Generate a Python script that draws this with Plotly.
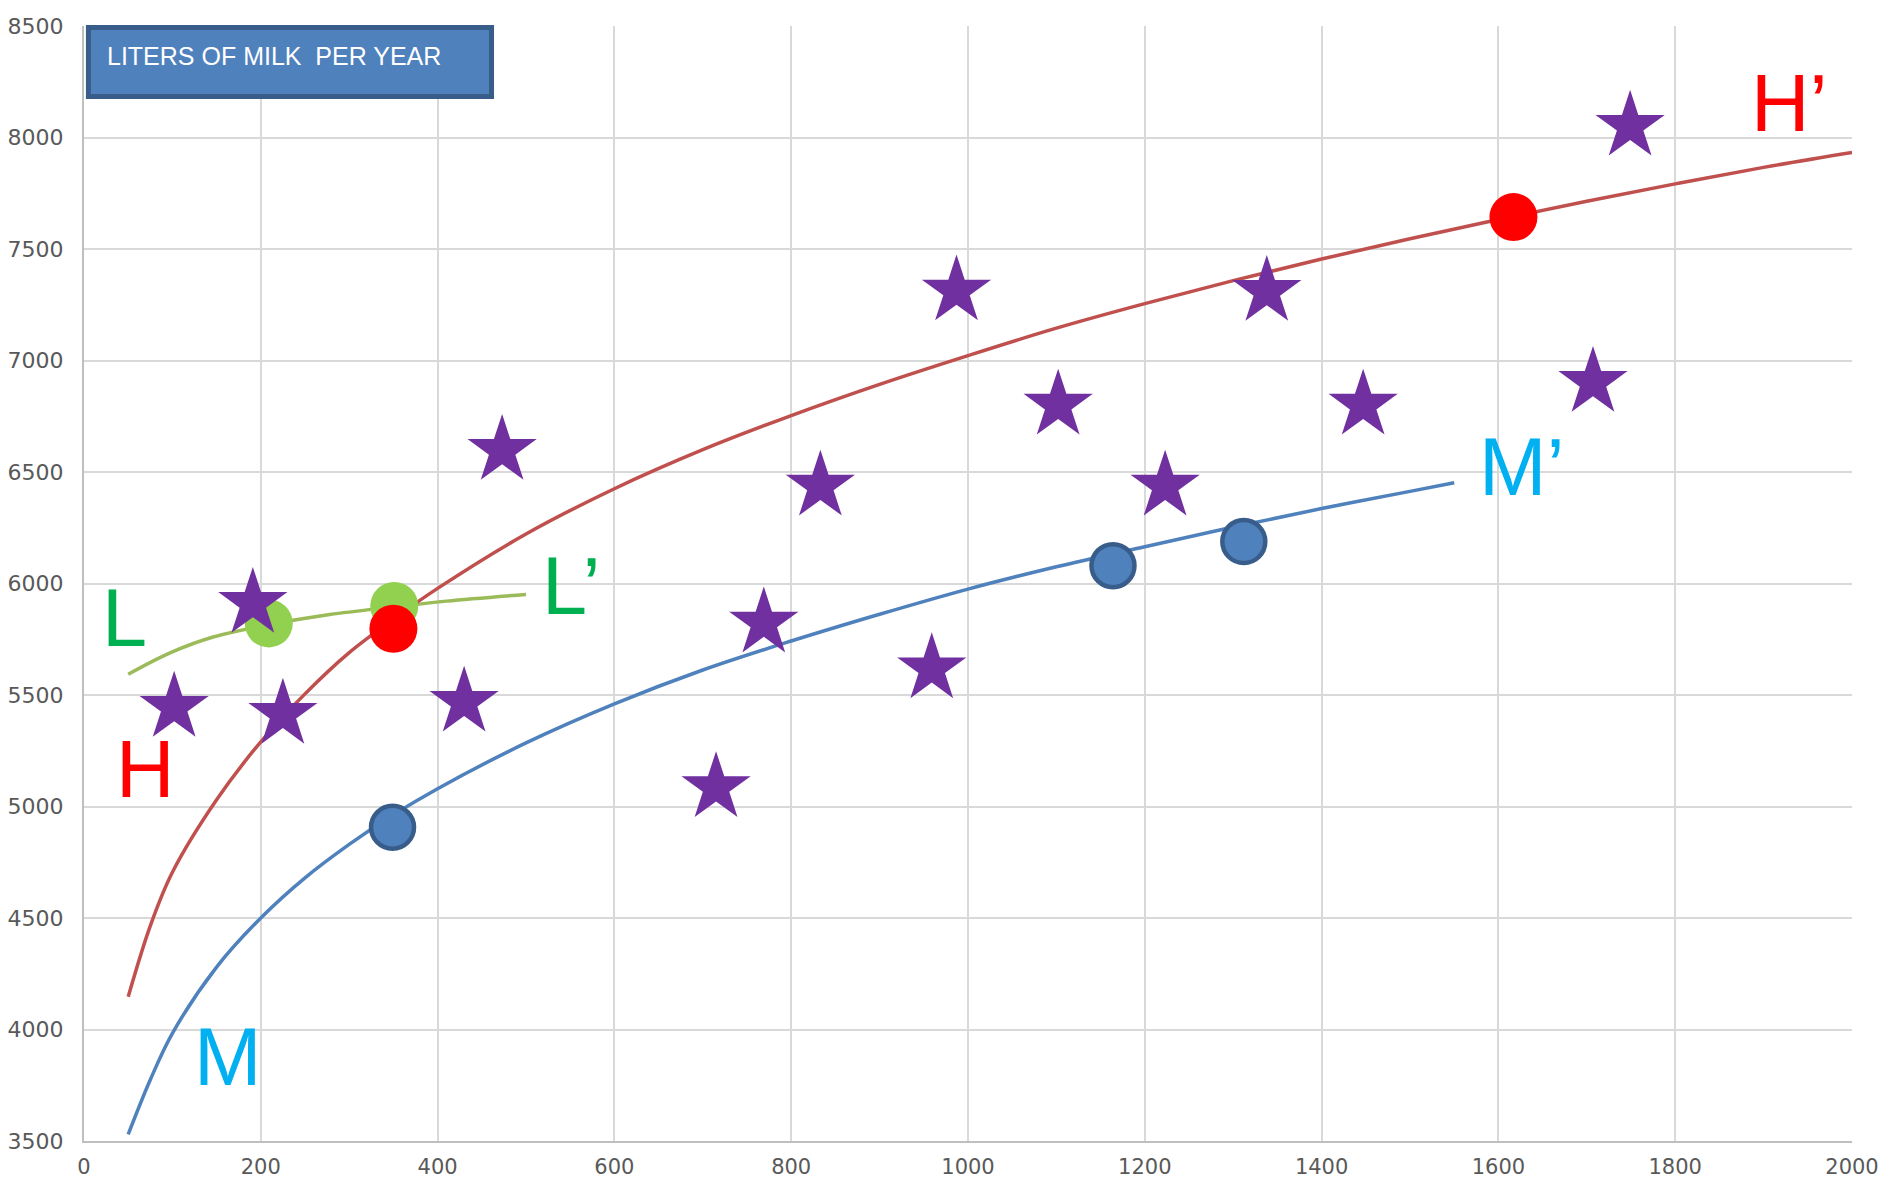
import plotly.graph_objects as go

# ---- data -------------------------------------------------------------
# Curve L (green)
L_X = [50, 98, 147, 209, 278, 351, 410, 500]
L_Y = [5593, 5690, 5761, 5815, 5861, 5895, 5921, 5951]

# Curve H (red)
H_X = [50, 75, 100, 150, 200, 250, 300, 350, 400, 500, 600, 700, 800, 900,
       1000, 1100, 1200, 1300, 1400, 1500, 1600, 1700, 1800, 1900, 2000]
H_Y = [4147, 4465, 4705, 5030, 5290, 5505, 5690, 5840, 5978, 6222, 6425, 6600,
       6753, 6893, 7022, 7145, 7255, 7358, 7455, 7546, 7632, 7714, 7792, 7866,
       7933]

# Curve M (blue)
M_X = [50, 75, 100, 150, 200, 250, 300, 350, 400, 500, 600, 700, 800, 900,
       1000, 1100, 1200, 1300, 1400, 1500, 1550]
M_Y = [3530, 3775, 3983, 4280, 4500, 4680, 4830, 4963, 5080, 5285, 5460, 5612,
       5742, 5862, 5975, 6075, 6165, 6253, 6336, 6413, 6452]

# Highlighted points on each curve
GREEN_X = [209, 351]
GREEN_Y = [5821, 5899]
RED_X = [350, 1617]
RED_Y = [5797, 7643]
BLUE_X = [349, 1164, 1312]
BLUE_Y = [4907, 6080, 6188]

# Individual farms (stars)
STAR_X = [102, 191, 225, 430, 473, 715, 769, 833, 959, 987, 1102, 1223, 1338,
          1447, 1707, 1749]
STAR_Y = [5445, 5911, 5414, 5468, 6597, 5085, 5823, 6437, 5618, 7312, 6800,
          6437, 7310, 6800, 6902, 8051]

X_TICKS = [0, 200, 400, 600, 800, 1000, 1200, 1400, 1600, 1800, 2000]
Y_TICKS = [3500, 4000, 4500, 5000, 5500, 6000, 6500, 7000, 7500, 8000, 8500]

TITLE = "LITERS OF MILK \u00a0PER YEAR"

# ---- figure -----------------------------------------------------------
fig = go.Figure()

fig.add_trace(go.Scatter(x=L_X, y=L_Y, mode="lines",
                         line=dict(color="#9BBB59", width=3.5, shape="spline")))
fig.add_trace(go.Scatter(x=H_X, y=H_Y, mode="lines",
                         line=dict(color="#C0504D", width=3.5, shape="spline")))
fig.add_trace(go.Scatter(x=M_X, y=M_Y, mode="lines",
                         line=dict(color="#4F81BD", width=3.5, shape="spline")))

fig.add_trace(go.Scatter(x=GREEN_X, y=GREEN_Y, mode="markers",
                         marker=dict(size=48, color="#92D050", line=dict(width=0))))
fig.add_trace(go.Scatter(x=RED_X, y=RED_Y, mode="markers",
                         marker=dict(size=48, color="#FF0000", line=dict(width=0))))
fig.add_trace(go.Scatter(x=BLUE_X, y=BLUE_Y, mode="markers",
                         marker=dict(size=43, color="#4F81BD",
                                     line=dict(width=4.5, color="#385D8A"))))
fig.add_trace(go.Scatter(x=STAR_X, y=STAR_Y, mode="markers",
                         marker=dict(symbol="star", size=52, color="#7030A0",
                                     line=dict(width=0))))

# Curve letters
big = dict(family="Liberation Sans, Arial, sans-serif", size=81)
labels = [
    ("L", 46, 5846, "center", "#00B050"),
    ("H", 69, 5169, "center", "#FF0000"),
    ("M", 162, 3877, "center", "#00B0F0"),
    ("L\u2019", 516, 5990, "left", "#00B050"),
    ("M\u2019", 1576, 6524, "left", "#00B0F0"),
    ("H\u2019", 1883, 8155, "left", "#FF0000"),
]
for txt, lx, ly, anchor, col in labels:
    fig.add_annotation(x=lx, y=ly, xref="x", yref="y", text=txt,
                       showarrow=False, xanchor=anchor, yanchor="middle",
                       font=dict(color=col, **big))

# Title box
fig.add_shape(type="rect", xref="paper", yref="paper",
              x0=0.0025, x1=0.2305, y0=0.9368, y1=0.9987,
              fillcolor="#4F81BD", line=dict(color="#385D8A", width=5),
              layer="above")
fig.add_annotation(xref="paper", yref="paper", x=0.0119, y=0.9729,
                   xanchor="left", yanchor="middle", text=TITLE,
                   showarrow=False,
                   font=dict(family="Liberation Sans, Arial, sans-serif",
                             size=25, color="#FFFFFF"))

x_tick_font = dict(family="DejaVu Sans, sans-serif", size=21, color="#595959")
y_tick_font = dict(family="DejaVu Sans, sans-serif", size=22, color="#595959")
fig.update_xaxes(range=[0, 2000], tickvals=X_TICKS, ticktext=[str(v) for v in X_TICKS],
                 showgrid=True, gridcolor="#D9D9D9", gridwidth=2,
                 zeroline=False, showline=True, linecolor="#BFBFBF", linewidth=2,
                 ticks="", ticklabelstandoff=6, tickfont=x_tick_font)
fig.update_yaxes(range=[3500, 8500], tickvals=Y_TICKS, ticktext=[str(v) for v in Y_TICKS],
                 showgrid=True, gridcolor="#D9D9D9", gridwidth=2,
                 zeroline=False, showline=True, linecolor="#BFBFBF", linewidth=2,
                 ticks="", ticklabelstandoff=14, tickfont=y_tick_font)

fig.update_layout(width=1882, height=1180,
                  margin=dict(l=84, r=30, t=26, b=39, autoexpand=False),
                  paper_bgcolor="#FFFFFF", plot_bgcolor="#FFFFFF",
                  showlegend=False)

fig.write_html("out.html")
